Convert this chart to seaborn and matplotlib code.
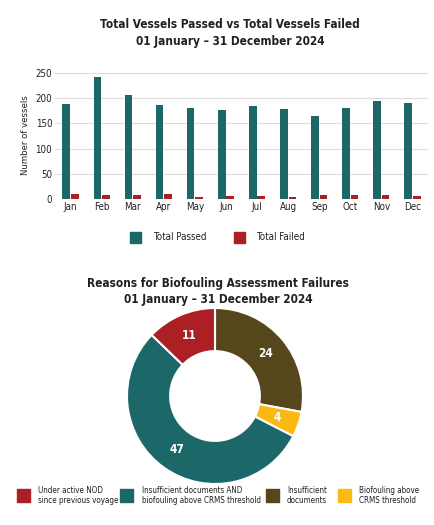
import numpy as np
import pandas as pd
import seaborn as sns
import matplotlib.pyplot as plt
from matplotlib.patches import Rectangle

# data
months = ['Jan', 'Feb', 'Mar', 'Apr', 'May', 'Jun', 'Jul', 'Aug', 'Sep', 'Oct', 'Nov', 'Dec']
passed = [189, 242, 206, 186, 180, 176, 185, 178, 164, 181, 195, 191]
failed = [10, 7, 7, 10, 3, 5, 5, 4, 7, 8, 8, 5]
series = ['Total Passed', 'Total Failed']

reasons = ['Insufficient\ndocuments', 'Biofouling above\nCRMS threshold',
           'Insufficient documents AND\nbiofouling above CRMS threshold',
           'Under active NOD\nsince previous voyage']
reason_counts = [24, 4, 47, 11]

TEAL = '#1c6868'
RED = '#ab1f25'
BROWN = '#55461b'
YELLOW = '#fdb913'
INK = '#231f20'

sns.set_style('white')
plt.rcParams['font.family'] = ['DejaVu Sans']
plt.rcParams['font.stretch'] = 'condensed'
plt.rcParams['text.color'] = INK

W, H = 434, 525
fig = plt.figure(figsize=(W / 100, H / 100), dpi=100)


def fx(px):
    return px / W


def fy(py):
    return 1 - py / H


def legend_item(x, y, size, color, label, tx, fs):
    # square swatch + label, positions in pixels from top-left
    fig.patches.append(Rectangle((fx(x), fy(y + size)), size / W, size / H,
                                 transform=fig.transFigure, color=color))
    fig.text(fx(tx), fy(y + size / 2), label, ha='left', va='center',
             fontsize=fs, linespacing=1.25)


# Bar chart
df = pd.DataFrame({'month': months * 2,
                   'count': passed + failed,
                   'kind': [series[0]] * 12 + [series[1]] * 12})
ax = fig.add_axes([fx(55), fy(199), 373 / W, 128 / H])
sns.barplot(data=df, x='month', y='count', hue='kind', palette=[TEAL, RED],
            width=0.55, gap=0.1, saturation=1, linewidth=0, ax=ax, legend=False)
ax.set_ylim(0, 254)
ax.set_yticks([0, 50, 100, 150, 200, 250])
ax.yaxis.grid(True, color='#dcdcdc', lw=0.8)
ax.set_axisbelow(True)
sns.despine(ax=ax, left=True, bottom=True)
ax.set_xlabel('')
ax.set_ylabel('Number of vessels', fontsize=6.8, color=INK, labelpad=4)
ax.tick_params(axis='both', length=0, labelsize=7, colors=INK, pad=2)

fig.text(0.53, fy(24), 'Total Vessels Passed vs Total Vessels Failed',
         ha='center', va='center', fontsize=8.5, fontweight='bold')
fig.text(0.53, fy(41), '01 January \u2013 31 December 2024',
         ha='center', va='center', fontsize=8.5, fontweight='bold')

legend_item(130, 232, 11, TEAL, series[0], 153, 7)
legend_item(234, 232, 11, RED, series[1], 256, 7)

# Donut chart
fig.text(0.503, fy(283), 'Reasons for Biofouling Assessment Failures',
         ha='center', va='center', fontsize=8.5, fontweight='bold')
fig.text(0.503, fy(299), '01 January \u2013 31 December 2024',
         ha='center', va='center', fontsize=8.5, fontweight='bold')

ax2 = fig.add_axes([fx(127), fy(484), 176 / W, 176 / H])
colors = [BROWN, YELLOW, TEAL, RED]
ax2.pie(reason_counts, colors=colors, startangle=90, counterclock=False,
        wedgeprops=dict(width=0.49, edgecolor='white', linewidth=1.5))
ax2.set_xlim(-1.0, 1.0)
ax2.set_ylim(-1.0, 1.0)
total = sum(reason_counts)
start = 90.0
for v in reason_counts:
    mid = np.deg2rad(start - v / total * 360 / 2)
    ax2.text(0.75 * np.cos(mid), 0.75 * np.sin(mid), str(v), ha='center',
             va='center', color='white', fontsize=8.5, fontweight='bold')
    start -= v / total * 360

# bottom legend: red, teal, brown, yellow
legend_item(17, 489, 13, colors[3], reasons[3], 38, 5.8)
legend_item(120, 489, 13, colors[2], reasons[2], 142, 5.8)
legend_item(266, 489, 13, colors[0], reasons[0], 287, 5.8)
legend_item(338, 489, 13, colors[1], reasons[1], 359, 5.8)

fig.savefig('out.png', dpi=100)
